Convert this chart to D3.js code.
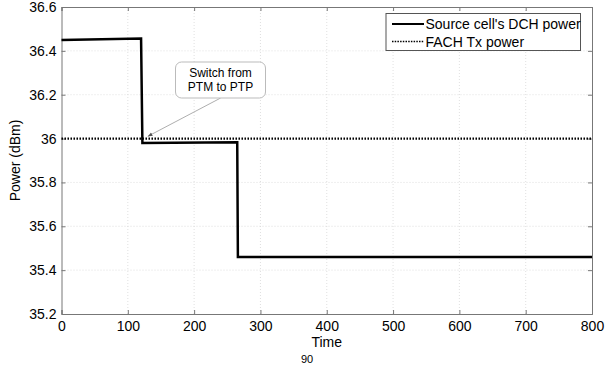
<!DOCTYPE html>
<html>
<head>
<meta charset="utf-8">
<script src="https://cdn.jsdelivr.net/npm/d3@7"></script>
<style>
  body { margin: 0; background: #fff; }
  svg { display: block; font-family: "Liberation Sans", Arial, sans-serif; }
</style>
</head>
<body>
<div id="chart"></div>
<script>
// source cell's DCH power (step curve)
const dchTime = [0, 120, 122, 265, 266, 800];
const dchPower = [36.45, 36.456, 35.98, 35.983, 35.46, 35.46];
// FACH Tx power (constant)
const fachTime = [0, 800];
const fachPower = [36, 36];
const xTicks = [0, 100, 200, 300, 400, 500, 600, 700, 800];
const yTicks = [35.2, 35.4, 35.6, 35.8, 36, 36.2, 36.4, 36.6];
const legendLabels = ["Source cell's DCH power", "FACH Tx power"];

const width = 616, height = 370;
const margin = { top: 7, right: 24, bottom: 56, left: 61.5 };
const innerW = width - margin.left - margin.right;
const innerH = height - margin.top - margin.bottom;

const svg = d3.select("#chart").append("svg")
  .attr("width", width)
  .attr("height", height);

const g = svg.append("g")
  .attr("transform", `translate(${margin.left},${margin.top})`);

const x = d3.scaleLinear().domain([0, 800]).range([0, innerW]);
const y = d3.scaleLinear().domain([35.2, 36.6]).range([innerH, 0]);

// grid
g.append("g").selectAll("line")
  .data(xTicks.slice(1, -1))
  .enter().append("line")
  .attr("x1", d => x(d)).attr("x2", d => x(d))
  .attr("y1", 0).attr("y2", innerH)
  .attr("stroke", "#d8d8d8").attr("stroke-width", 0.8)
  .attr("stroke-dasharray", "1,2");
g.append("g").selectAll("line")
  .data(yTicks.slice(1, -1))
  .enter().append("line")
  .attr("x1", 0).attr("x2", innerW)
  .attr("y1", d => y(d)).attr("y2", d => y(d))
  .attr("stroke", "#d8d8d8").attr("stroke-width", 0.8)
  .attr("stroke-dasharray", "1,2");

// axes (ticks pointing inward, mirrored on top/right)
const axisColor = "#777";
const xAxis = g.append("g")
  .attr("transform", `translate(0,${innerH})`)
  .call(d3.axisBottom(x).tickValues(xTicks).tickSize(-4).tickPadding(7).tickFormat(d3.format("d")));
const yAxis = g.append("g")
  .call(d3.axisLeft(y).tickValues(yTicks).tickSize(-4).tickPadding(5).tickFormat(d => d3.format("")(+d.toFixed(1))));
g.append("g")
  .call(d3.axisTop(x).tickValues(xTicks).tickSize(-4).tickFormat(""));
g.append("g")
  .attr("transform", `translate(${innerW},0)`)
  .call(d3.axisRight(y).tickValues(yTicks).tickSize(-4).tickFormat(""));

g.selectAll(".domain").attr("stroke", axisColor);
g.selectAll(".tick line").attr("stroke", axisColor);
g.selectAll(".tick text").attr("fill", "#000").style("font-size", "14px");

// lines
const line = d3.line().x(d => x(d[0])).y(d => y(d[1]));
g.append("path")
  .datum(fachTime.map((t, i) => [t, fachPower[i]]))
  .attr("d", line)
  .attr("fill", "none").attr("stroke", "#000")
  .attr("stroke-width", 2.2).attr("stroke-dasharray", "1.5,1.5");
g.append("path")
  .datum(dchTime.map((t, i) => [t, dchPower[i]]))
  .attr("d", line)
  .attr("fill", "none").attr("stroke", "#000")
  .attr("stroke-width", 2.5);

// axis labels
svg.append("text")
  .attr("x", margin.left + innerW / 2).attr("y", 347)
  .attr("text-anchor", "middle")
  .style("font-size", "14px")
  .text("Time");
svg.append("text")
  .attr("transform", `translate(20,${margin.top + innerH / 2}) rotate(-90)`)
  .attr("text-anchor", "middle")
  .style("font-size", "14px")
  .text("Power (dBm)");
svg.append("text")
  .attr("x", 307).attr("y", 363)
  .attr("text-anchor", "middle")
  .style("font-size", "11px")
  .text("90");

// annotation
const defs = svg.append("defs");
defs.append("marker")
  .attr("id", "arrow")
  .attr("viewBox", "0 0 10 10")
  .attr("refX", 10).attr("refY", 5)
  .attr("markerWidth", 6).attr("markerHeight", 6)
  .attr("orient", "auto")
  .append("path").attr("d", "M0,1 L10,5 L0,9 Z").attr("fill", "#555");

g.append("line")
  .attr("x1", x(240)).attr("y1", 98 - margin.top)
  .attr("x2", x(130)).attr("y2", y(36.01))
  .attr("stroke", "#999").attr("stroke-width", 0.8)
  .attr("marker-end", "url(#arrow)");

const note = svg.append("g");
note.append("rect")
  .attr("x", 175.5).attr("y", 62)
  .attr("width", 90).attr("height", 36)
  .attr("rx", 6)
  .attr("fill", "#fff").attr("stroke", "#bbb").attr("stroke-width", 1);
note.append("text")
  .attr("x", 220.5).attr("y", 77)
  .attr("text-anchor", "middle").style("font-size", "12px")
  .text("Switch from");
note.append("text")
  .attr("x", 220.5).attr("y", 91)
  .attr("text-anchor", "middle").style("font-size", "12px")
  .text("PTM to PTP");

// legend
const legend = svg.append("g").attr("transform", "translate(386,13.5)");
legend.append("rect")
  .attr("width", 194.5).attr("height", 37)
  .attr("fill", "#fff").attr("stroke", "#555").attr("stroke-width", 1);
const items = legend.selectAll(".item")
  .data(legendLabels)
  .enter().append("g")
  .attr("transform", (d, i) => `translate(0,${10.5 + i * 17.5})`);
items.append("line")
  .attr("x1", 6).attr("x2", 38)
  .attr("stroke", "#000")
  .attr("stroke-width", (d, i) => i === 0 ? 2 : 1.6)
  .attr("stroke-dasharray", (d, i) => i === 0 ? null : "1.5,1.2");
items.append("text")
  .attr("x", 39.5).attr("y", 5)
  .style("font-size", "14px")
  .text(d => d);
</script>
</body>
</html>
